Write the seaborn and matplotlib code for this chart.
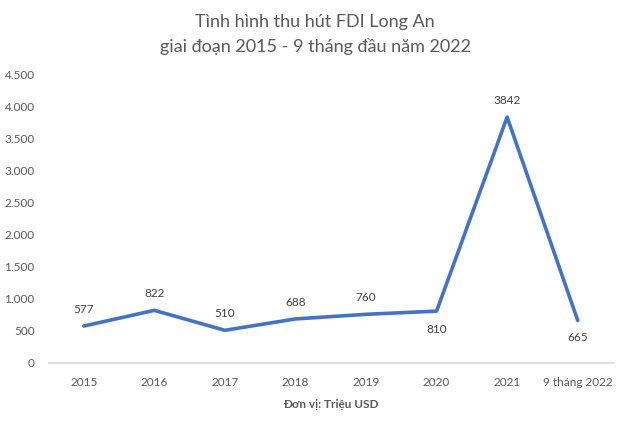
import matplotlib
matplotlib.use("Agg")
import matplotlib.pyplot as plt
import seaborn as sns
import pandas as pd

categories = ["2015", "2016", "2017", "2018", "2019", "2020", "2021", "9 tháng 2022"]
values = [577, 822, 510, 688, 760, 810, 3842, 665]
label_offsets = [12, 12, 12, 12, 12, -13, 12, -12]
yticks = [0, 500, 1000, 1500, 2000, 2500, 3000, 3500, 4000, 4500]

sns.set_theme(style="white")
plt.rcParams["font.family"] = ["Lato", "DejaVu Sans"]

df = pd.DataFrame({"cat": categories, "val": values})
fig = plt.figure(figsize=(6.3, 4.26), dpi=100)
ax = fig.add_axes([0.077, 0.148, 0.896, 0.676])
sns.lineplot(data=df, x="cat", y="val", ax=ax, color="#4472C4", linewidth=2.6, sort=False)
ax.set_xlim(-0.5, len(categories) - 0.5)
ax.set_ylim(0, 4500)
ax.set_yticks(yticks)
ax.set_yticklabels([f"{v:,}".replace(",", ".") for v in yticks])
for s in ["top", "right", "left"]:
    ax.spines[s].set_visible(False)
ax.spines["bottom"].set_color("#D9D9D9")
ax.tick_params(axis="both", labelsize=8.5, colors="#595959", length=0)
ax.tick_params(axis="x", pad=10)
ax.tick_params(axis="y", pad=10)
for i, (v, off) in enumerate(zip(values, label_offsets)):
    ax.annotate(str(v), (i, v), xytext=(0, off), textcoords="offset points",
                ha="center", va="center", fontsize=8.5, color="#404040")
ax.set_xlabel("Đơn vị: Triệu USD", fontsize=8.5, fontweight="bold", color="#595959", labelpad=8)
ax.set_ylabel("")
fig.text(0.5, 0.919, "Tình hình thu hút FDI Long An\ngiai đoạn 2015 - 9 tháng đầu năm 2022",
         ha="center", va="center", fontsize=13, color="#595959", linespacing=1.6)
fig.savefig("out.png", dpi=100, facecolor="white")
